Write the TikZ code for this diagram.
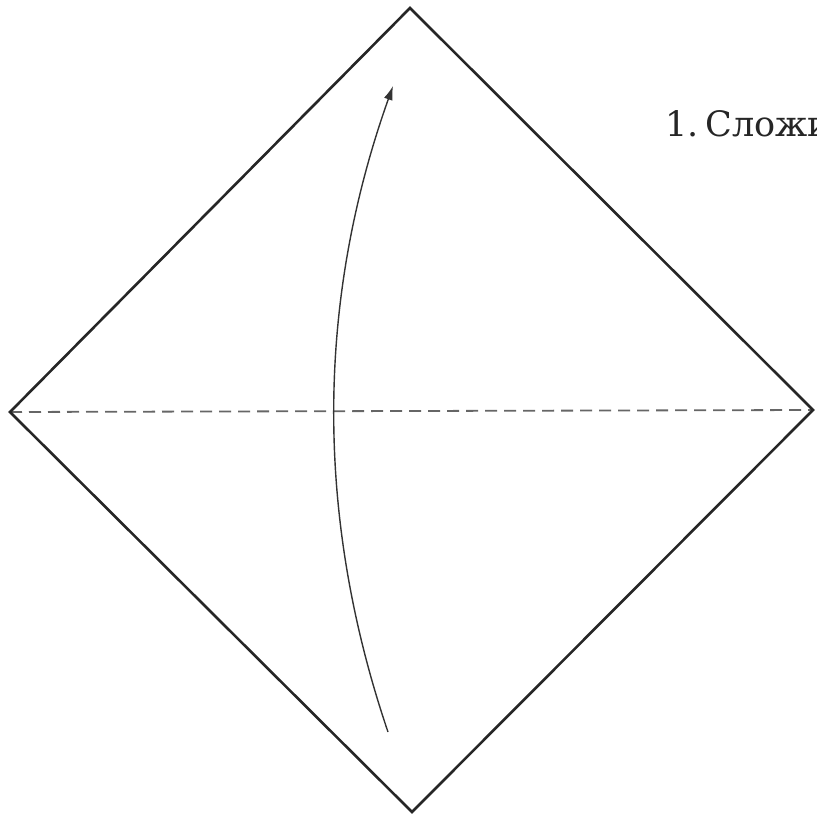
\documentclass[tikz,border=0pt]{standalone}
\usepackage{fontspec}
\setmainfont{DejaVu Serif}
\usetikzlibrary{arrows.meta}
\begin{document}
\begin{tikzpicture}[x=1pt,y=-1pt,
  edge/.style={line width=2.6pt,line join=miter,color=black!85},
  foldline/.style={line width=1.8pt,color=black!60,dash pattern=on 12pt off 7pt},
  movearrow/.style={line width=1.4pt,color=black!80,-{Latex[length=14pt,width=9pt]}},
  label/.style={font=\fontsize{35}{40}\selectfont,anchor=base west,inner sep=0pt,text=black!85}]
\useasboundingbox (0,0) rectangle (816,821);
\clip (0,0) rectangle (816,821);
\coordinate (T) at (410,8);
\coordinate (L) at (10,412);
\coordinate (R) at (813,410);
\coordinate (B) at (412,812);
\coordinate (S) at (388,732);
\coordinate (E) at (393,86);
\draw[foldline] (L) -- (R);
\draw[edge] (T) -- (R) -- (B) -- (L) -- cycle;
\draw[movearrow] (S) .. controls (315,517) and (316,302) .. (E);
\node[label] (txt) at (665,137) {1.\kern-4pt\ Сложи};
\end{tikzpicture}
\end{document}
